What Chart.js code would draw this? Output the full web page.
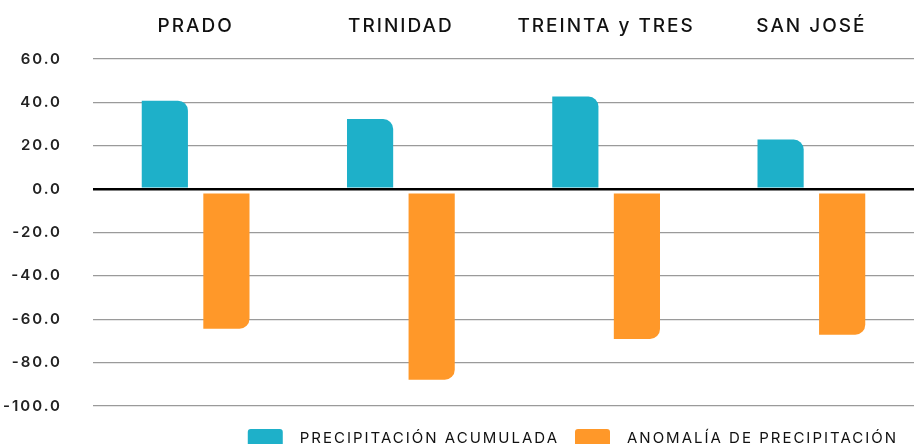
<!DOCTYPE html>
<html>
<head>
<meta charset="utf-8">
<script src="https://cdn.jsdelivr.net/npm/chart.js@4/dist/chart.umd.min.js"></script>
<style>
  html, body { margin: 0; padding: 0; background: #fff; overflow: hidden; }
  #wrap { width: 914px; height: 457px; position: relative; }
</style>
</head>
<body>
<div id="wrap"><canvas id="c"></canvas></div>
<script>
const categories = ['PRADO', 'TRINIDAD', 'TREINTA y TRES', 'SAN JOSÉ'];
const acumulada = [40.8, 32.3, 42.7, 22.9];
const anomalia = [-64.4, -87.9, -69.1, -67.1];
const seriesNames = ['PRECIPITACIÓN ACUMULADA', 'ANOMALÍA DE PRECIPITACIÓN'];
const yTicks = { min: -100, max: 60, step: 20 };

const BLUE = '#1EB0C9';
const ORANGE = '#FF9829';
const FONT = 'Inter, "Open Sans", sans-serif';

const spacingPlugin = {
  id: 'spacing',
  beforeUpdate(chart) { chart.ctx.letterSpacing = '2px'; },
  beforeLayout(chart) { chart.ctx.letterSpacing = '2px'; },
  beforeDraw(chart) { chart.ctx.letterSpacing = '2px'; }
};

new Chart(document.getElementById('c'), {
  type: 'bar',
  plugins: [spacingPlugin],
  data: {
    labels: categories,
    datasets: [
      {
        label: seriesNames[0],
        data: acumulada,
        backgroundColor: BLUE,
        base: 0.8,
        borderRadius: { topRight: 10 },
        borderSkipped: 'start',
        categoryPercentage: 0.6,
        barPercentage: 0.75
      },
      {
        label: seriesNames[1],
        data: anomalia,
        backgroundColor: ORANGE,
        base: -2,
        borderRadius: { bottomRight: 10 },
        borderSkipped: 'start',
        categoryPercentage: 0.6,
        barPercentage: 0.75
      }
    ]
  },
  options: {
    responsive: true,
    maintainAspectRatio: false,
    animation: false,
    layout: { padding: { left: 0, right: 0, top: 0, bottom: 0 } },
    plugins: {
      tooltip: { enabled: false },
      legend: {
        position: 'bottom',
        align: 'end',
        title: { display: true, text: ' ', font: { size: 1, lineHeight: 1 }, padding: { top: 6, bottom: 0 } },
        labels: {
          boxWidth: 35,
          boxHeight: 18,
          padding: 16,
          useBorderRadius: true,
          borderRadius: 3,
          color: '#111',
          font: { family: FONT, size: 15, weight: '400' },
          generateLabels(chart) {
            return Chart.defaults.plugins.legend.labels.generateLabels(chart)
              .map(item => Object.assign(item, { text: '\u2002' + item.text }));
          }
        }
      }
    },
    scales: {
      x: {
        position: 'top',
        grid: { display: false, drawTicks: false },
        border: { display: false },
        ticks: {
          color: '#111',
          padding: 21,
          font: { family: FONT, size: 19, weight: '500' }
        },
        afterFit(scale) { scale.height = 59; }
      },
      y: {
        min: yTicks.min,
        max: yTicks.max,
        border: { display: false },
        grid: {
          drawTicks: false,
          color: ctx => ctx.tick && ctx.tick.value === 0 ? '#000' : '#9a9a9a',
          lineWidth: ctx => ctx.tick && ctx.tick.value === 0 ? 2.6 : 1.3
        },
        ticks: {
          stepSize: yTicks.step,
          padding: 31,
          color: '#222',
          font: { family: FONT, size: 15, weight: '600' },
          callback: v => Number(v).toFixed(1)
        },
        afterFit(scale) { scale.width = 93; }
      }
    }
  }
});
</script>
</body>
</html>
